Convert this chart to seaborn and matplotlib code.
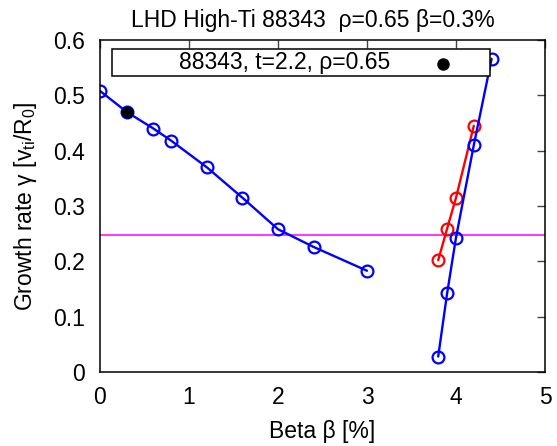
import matplotlib
matplotlib.use("Agg")
import matplotlib.pyplot as plt
import seaborn as sns
import pandas as pd
from matplotlib.patches import Rectangle

sns.set_theme(style="white")
plt.rcParams['font.family'] = ['Liberation Sans', 'DejaVu Sans']
plt.rcParams['mathtext.fontset'] = 'custom'
plt.rcParams['mathtext.rm'] = 'Liberation Sans'
plt.rcParams['mathtext.it'] = 'Liberation Sans'
plt.rcParams['text.color'] = 'black'
plt.rcParams['axes.labelcolor'] = 'black'
plt.rcParams['xtick.color'] = 'black'
plt.rcParams['ytick.color'] = 'black'

# Data
beta_low = [0.0, 0.3, 0.6, 0.8, 1.2, 1.6, 2.0, 2.4, 3.0]
gamma_low = [0.508, 0.470, 0.440, 0.418, 0.370, 0.315, 0.258, 0.226, 0.183]
beta_high_blue = [3.80, 3.90, 4.00, 4.20, 4.40]
gamma_high_blue = [0.028, 0.142, 0.243, 0.410, 0.566]
beta_high_red = [3.80, 3.90, 4.00, 4.20]
gamma_high_red = [0.202, 0.259, 0.315, 0.445]
exp_beta = [0.3]
exp_gamma = [0.470]
threshold = 0.247
xticks = [0, 1, 2, 3, 4, 5]
yticks = [0, 0.1, 0.2, 0.3, 0.4, 0.5, 0.6]
ytick_labels = ["0", "0.1", "0.2", "0.3", "0.4", "0.5", "0.6"]

FS = 16.5

fig = plt.figure(figsize=(5.57, 4.46), dpi=100)
ax = fig.add_axes([100/557, 1-372/446, 445/557, 332/446])

mk = dict(marker='o', markersize=8.5, markerfacecolor='none', markeredgewidth=1.6, linewidth=1.7)

ax.axhline(threshold, color='#ff00ff', linewidth=1.1, zorder=1)
sns.lineplot(data=pd.DataFrame({'x': beta_low, 'y': gamma_low}), x='x', y='y', sort=False,
             color='#0000ff', markeredgecolor='#0000ff', ax=ax, **mk)
sns.lineplot(data=pd.DataFrame({'x': beta_high_red, 'y': gamma_high_red}), x='x', y='y', sort=False,
             color='#ff0000', markeredgecolor='#ff0000', ax=ax, **mk)
sns.lineplot(data=pd.DataFrame({'x': beta_high_blue, 'y': gamma_high_blue}), x='x', y='y', sort=False,
             color='#0000ff', markeredgecolor='#0000ff', ax=ax, **mk)
sns.scatterplot(x=exp_beta, y=exp_gamma, color='black', s=65, edgecolor='black', ax=ax, zorder=5)

ax.set_xlim(0, 5)
ax.set_ylim(0, 0.6)
ax.set_xticks(xticks)
ax.set_xticklabels([str(t) for t in xticks])
ax.set_yticks(yticks)
ax.set_yticklabels(ytick_labels)
ax.tick_params(direction='in', length=6, width=1, top=True, right=True, labelsize=FS,
               color='#444444')
ax.tick_params(axis='x', pad=10)
ax.tick_params(axis='y', pad=11)
for s in ax.spines.values():
    s.set_color('black')
    s.set_linewidth(1.1)

ax.set_xlabel("Beta β [%]", fontsize=FS, labelpad=8)
ax.set_ylabel(r"Growth rate γ [v$_{\rm ti}$/R$_{\rm 0}$]", fontsize=FS, labelpad=10)
ax.set_title("LHD High-Ti 88343  ρ=0.65 β=0.3%", fontsize=FS, pad=9, x=(313-100)/445)

# key box
x0 = (112-100)/445
x1 = (490-100)/445
y0 = (372-76)/332
y1 = (372-49)/332
ax.add_patch(Rectangle((x0, y0), x1-x0, y1-y0, transform=ax.transAxes, facecolor='white',
                       edgecolor='black', linewidth=1.1, zorder=6, clip_on=False))
ax.text((285-100)/445, (y0+y1)/2, "88343, t=2.2, ρ=0.65", transform=ax.transAxes,
        ha='center', va='center', fontsize=FS, zorder=7)
ax.plot([(443-100)/445], [(372-64)/332], 'o', color='black', markersize=8,
        transform=ax.transAxes, zorder=7, clip_on=False)

fig.savefig("out.png", dpi=100)
